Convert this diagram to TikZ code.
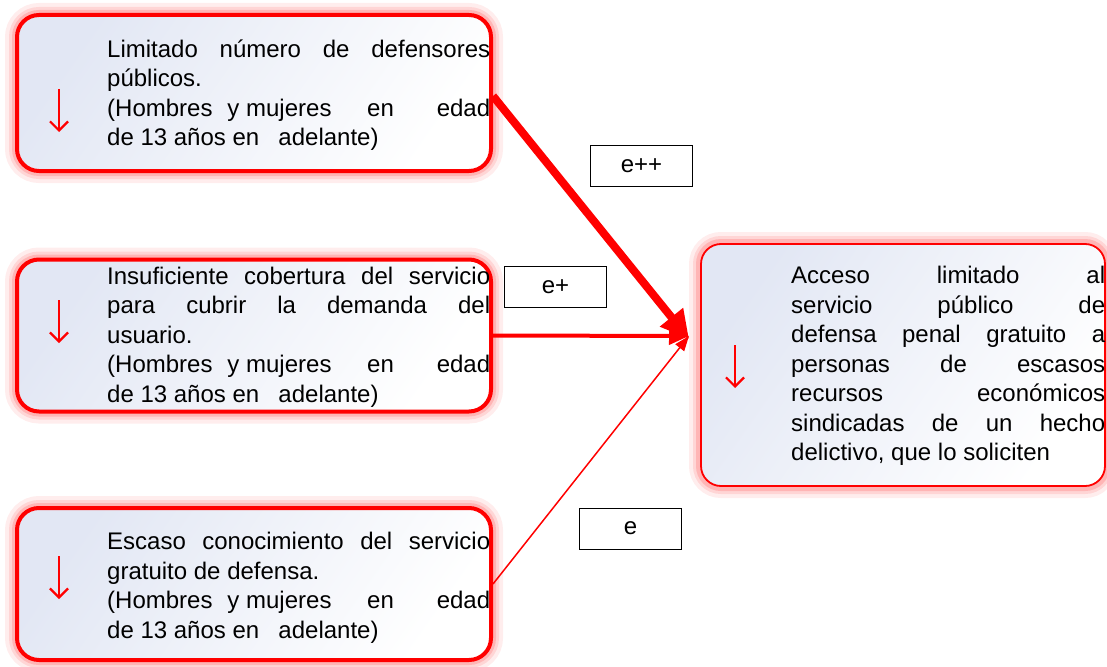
\documentclass[tikz,border=0pt]{standalone}
\usepackage{fontspec}
\setmainfont{Liberation Sans}
\usetikzlibrary{arrows.meta}
\definecolor{boxfill}{RGB}{226,231,244}
\newcommand\jl[1]{\hbox to 383pt{#1}}
\newcommand\jt[1]{\hbox to 314pt{#1}}
\newcommand\gp[1]{\hspace{0.278em plus #1fil}}
\begin{document}
\begin{tikzpicture}[x=1pt,y=-1pt,
  glow/.style={preaction={draw=red,opacity=0.07,line width=24pt},
               preaction={draw=red,opacity=0.10,line width=16pt},
               preaction={draw=red,opacity=0.15,line width=10pt}},
  causebox/.style={glow,draw=red,line width=4pt,rounded corners=22pt,
               left color=boxfill,right color=white,shading angle=55,
               minimum width=474pt,inner sep=0pt},
  effectbox/.style={glow,draw=red,line width=1.8pt,rounded corners=20pt,
               left color=boxfill,right color=white,shading angle=55,
               minimum width=404pt,minimum height=242pt,inner sep=0pt},
  boxtext/.style={anchor=west,align=left,inner sep=0pt,
               font=\fontsize{24}{29.5}\selectfont},
  labelbox/.style={draw=black,line width=0.8pt,fill=white,
               minimum width=102pt,minimum height=41pt,inner sep=0pt,
               font=\fontsize{24}{28}\selectfont},
  downarr/.style={draw=red,line width=2.2pt,-{Straight Barb[length=9pt,width=18pt]}},
  bigarrow/.style={draw=red,line width=8pt,-{Triangle[length=28pt,width=28pt]}},
  midarrow/.style={draw=red,line width=4pt,-{Triangle[length=20pt,width=17pt]}},
  smallarrow/.style={draw=red,line width=1.5pt,-{Triangle[length=15pt,width=11pt]}}
]
\useasboundingbox (0,0) rectangle (1107,666);

% cause boxes
\node[causebox,minimum height=156pt] (b1) at (254,93) {};
\node[causebox,minimum height=152pt] (b2) at (254,335.5) {};
\node[causebox,minimum height=152pt] (b3) at (254,584) {};
% effect box
\node[effectbox] (T) at (903,365) {};

% texts
\node[boxtext] (t1) at (107,95) {\jl{Limitado número de defensores}\\
  públicos.\\
  \jl{(Hombres\gp{8}y\gp{0}mujeres\gp{28}en\gp{35}edad}\\
  de 13 años en\hspace{0.8em}adelante)};
\node[boxtext] (t2) at (107,337) {\jl{Insuficiente cobertura del servicio}\\
  \jl{para cubrir la demanda del}\\
  usuario.\\
  \jl{(Hombres\gp{8}y\gp{0}mujeres\gp{28}en\gp{35}edad}\\
  de 13 años en\hspace{0.8em}adelante)};
\node[boxtext] (t3) at (107,588) {\jl{Escaso conocimiento del servicio}\\
  gratuito de defensa.\\
  \jl{(Hombres\gp{8}y\gp{0}mujeres\gp{28}en\gp{35}edad}\\
  de 13 años en\hspace{0.8em}adelante)};
\node[boxtext] (tT) at (791,366) {\jt{Acceso limitado al}\\
  \jt{servicio público de}\\
  \jt{defensa penal gratuito a}\\
  \jt{personas de escasos}\\
  \jt{recursos económicos}\\
  \jt{sindicadas de un hecho}\\
  delictivo, que lo soliciten};

% small down arrows in boxes
\draw[downarr] (59,89) -- (59,132);
\draw[downarr] (59,300) -- (59,343);
\draw[downarr] (59,556) -- (59,599);
\draw[downarr] (735,345) -- (735,388);

% labels
\node[labelbox] (l1) at (641.5,166) {e++};
\node[labelbox] (l2) at (555.5,286.5) {e+};
\node[labelbox] (l3) at (630.5,528.5) {e};

% connectors
\coordinate (in) at (689,336);
\draw[smallarrow] (b3.east) -- (in);
\draw[midarrow] (b2.east) -- (in);
\draw[bigarrow] ([yshift=-3pt]b1.east) -- ([yshift=-3pt]in);
\end{tikzpicture}
\end{document}
